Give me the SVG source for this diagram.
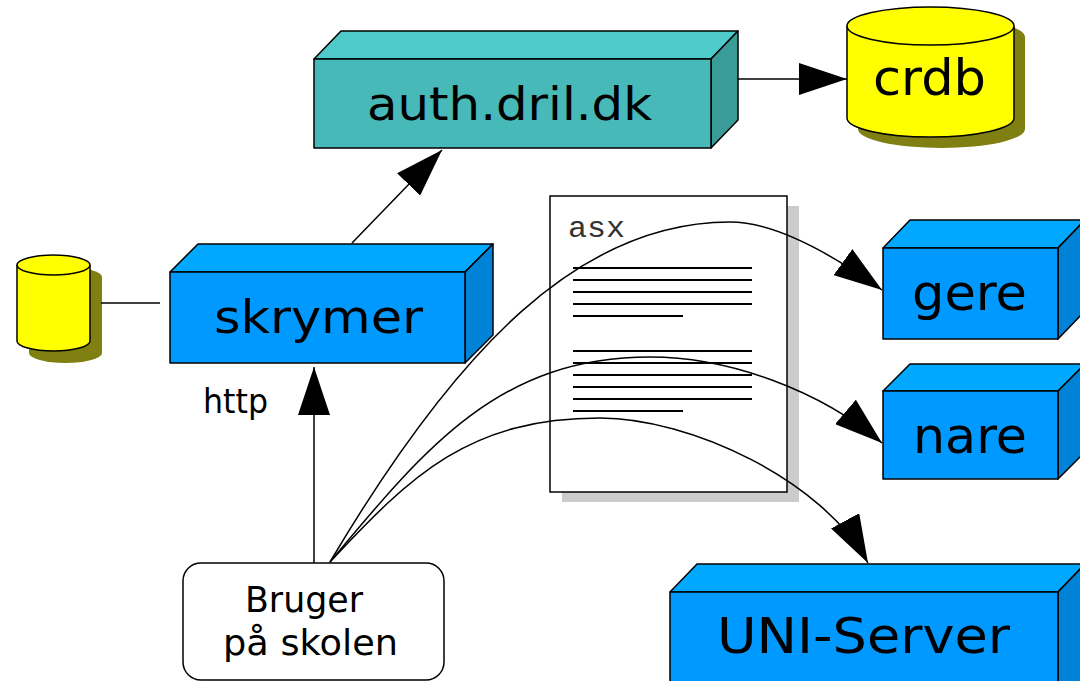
<svg xmlns="http://www.w3.org/2000/svg" width="1080" height="681" viewBox="0 0 1080 681">
<style>
.edge{stroke:#000;stroke-width:1.5;stroke-linejoin:round}
.tf{fill:#47b9b9}.tt{fill:#4fcaca}.tr{fill:#3a9c98}
.bf{fill:#0099ff}.bt{fill:#00a8ff}.br{fill:#0082d6}
.cyl{fill:#ffff00;stroke:#000;stroke-width:1.5}
.shadow{fill:#7f7f12}
.lbl{font-family:"DejaVu Sans","Liberation Sans",sans-serif;fill:#000}
.conn{fill:none;stroke:#000;stroke-width:1.5}
.doc{stroke:#000;stroke-width:1.5}
</style>
<defs>
<marker id="ah" markerUnits="userSpaceOnUse" viewBox="0 0 48 32" refX="48" refY="16" markerWidth="48" markerHeight="32" orient="auto">
<path d="M0,0 L48,16 L0,32 z" fill="#000"/>
</marker>
</defs>
<rect width="1080" height="681" fill="#fff"/>

<g id="auth">
<polygon class="edge tt" points="314,59 341,31 738,31 711,59"/>
<polygon class="edge tr" points="711,59 738,31 738,120 711,148"/>
<rect class="edge tf" x="314" y="59" width="397" height="89"/>
<text class="lbl" x="367" y="120" font-size="46" textLength="285" lengthAdjust="spacingAndGlyphs">auth.dril.dk</text>
</g>

<g id="crdb">
<path class="shadow" d="M858,37 A83.5,19 0 0 1 1025,37 L1025,129 A83.5,19 0 0 1 858,129 Z"/>
<path class="cyl" d="M847,26 L847,118 A83.5,19 0 0 0 1014,118 L1014,26"/>
<ellipse class="cyl" cx="930.5" cy="26" rx="83.5" ry="19"/>
<text class="lbl" x="873" y="95" font-size="50" textLength="113" lengthAdjust="spacingAndGlyphs">crdb</text>
</g>

<g id="db">
<path class="shadow" d="M29,277 A36.5,10 0 0 1 102,277 L102,353 A36.5,10 0 0 1 29,353 Z"/>
<path class="cyl" d="M17,265 L17,341 A36.5,10 0 0 0 90,341 L90,265"/>
<ellipse class="cyl" cx="53.5" cy="265" rx="36.5" ry="10"/>
</g>

<g id="skrymer">
<polygon class="edge bt" points="170,272 198,244 493,244 465,272"/>
<polygon class="edge br" points="465,272 493,244 493,335 465,363"/>
<rect class="edge bf" x="170" y="272" width="295" height="91"/>
<text class="lbl" x="214" y="333" font-size="46" textLength="209" lengthAdjust="spacingAndGlyphs">skrymer</text>
</g>

<g id="asx">
<rect x="562" y="206" width="237" height="296" fill="#cccccc"/>
<rect class="doc" x="550" y="196" width="237" height="296" fill="#fff"/>
<text x="568" y="237" font-family="'Liberation Mono','DejaVu Sans Mono',monospace" font-size="30" fill="#333" textLength="57" lengthAdjust="spacingAndGlyphs">asx</text>
<g stroke="#000" stroke-width="2">
<line x1="573" y1="268" x2="752" y2="268"/>
<line x1="573" y1="280" x2="752" y2="280"/>
<line x1="573" y1="292" x2="752" y2="292"/>
<line x1="573" y1="304" x2="752" y2="304"/>
<line x1="573" y1="316" x2="683" y2="316"/>
<line x1="573" y1="351" x2="752" y2="351"/>
<line x1="573" y1="363" x2="752" y2="363"/>
<line x1="573" y1="375" x2="752" y2="375"/>
<line x1="573" y1="387" x2="752" y2="387"/>
<line x1="573" y1="399" x2="752" y2="399"/>
<line x1="573" y1="411" x2="683" y2="411"/>
</g>
</g>

<g id="gere">
<polygon class="edge bt" points="883,248 910,220 1085,220 1058,248"/>
<polygon class="edge br" points="1058,248 1085,220 1085,311 1058,339"/>
<rect class="edge bf" x="883" y="248" width="175" height="91"/>
<text class="lbl" x="912" y="310" font-size="50" textLength="115" lengthAdjust="spacingAndGlyphs">gere</text>
</g>

<g id="nare">
<polygon class="edge bt" points="883,391 910,364 1085,364 1058,391"/>
<polygon class="edge br" points="1058,391 1085,364 1085,452 1058,479"/>
<rect class="edge bf" x="883" y="391" width="175" height="88"/>
<text class="lbl" x="913" y="453" font-size="50" textLength="114" lengthAdjust="spacingAndGlyphs">nare</text>
</g>

<g id="uni">
<polygon class="edge bt" points="670,592 697,564 1085,564 1058,592"/>
<polygon class="edge br" points="1058,592 1085,564 1085,700 1058,700"/>
<rect class="edge bf" x="670" y="592" width="388" height="110"/>
<text class="lbl" x="717" y="653" font-size="50" textLength="293" lengthAdjust="spacingAndGlyphs">UNI-Server</text>
</g>

<g id="bruger">
<rect x="183" y="563" width="261" height="117" rx="18" ry="18" fill="#fff" stroke="#000" stroke-width="1.5"/>
<text class="lbl" x="245" y="612" font-size="35" textLength="118" lengthAdjust="spacingAndGlyphs">Bruger</text>
<text class="lbl" x="223" y="655" font-size="35" textLength="175" lengthAdjust="spacingAndGlyphs">på skolen</text>
</g>

<g id="connectors">
<line class="conn" x1="352" y1="243" x2="442" y2="150" marker-end="url(#ah)"/>
<line class="conn" x1="738" y1="79" x2="847" y2="79" marker-end="url(#ah)"/>
<line class="conn" x1="101" y1="303" x2="160" y2="303"/>
<line class="conn" x1="314" y1="563" x2="314" y2="367" marker-end="url(#ah)"/>
<text class="lbl" x="203" y="413" font-size="34" fill="#222" textLength="65" lengthAdjust="spacingAndGlyphs">http</text>
<path class="conn" d="M330,562 C457.5,347 580,222 730,222 C780,222 841.5,261 882,290" marker-end="url(#ah)"/>
<path class="conn" d="M330,562 C426,446.5 500,357 650,357 C730,357 821,391 882,443" marker-end="url(#ah)"/>
<path class="conn" d="M330,562 C411.6,474.4 470,418 600,418 C690,418 823,480 868,563" marker-end="url(#ah)"/>
</g>
</svg>
